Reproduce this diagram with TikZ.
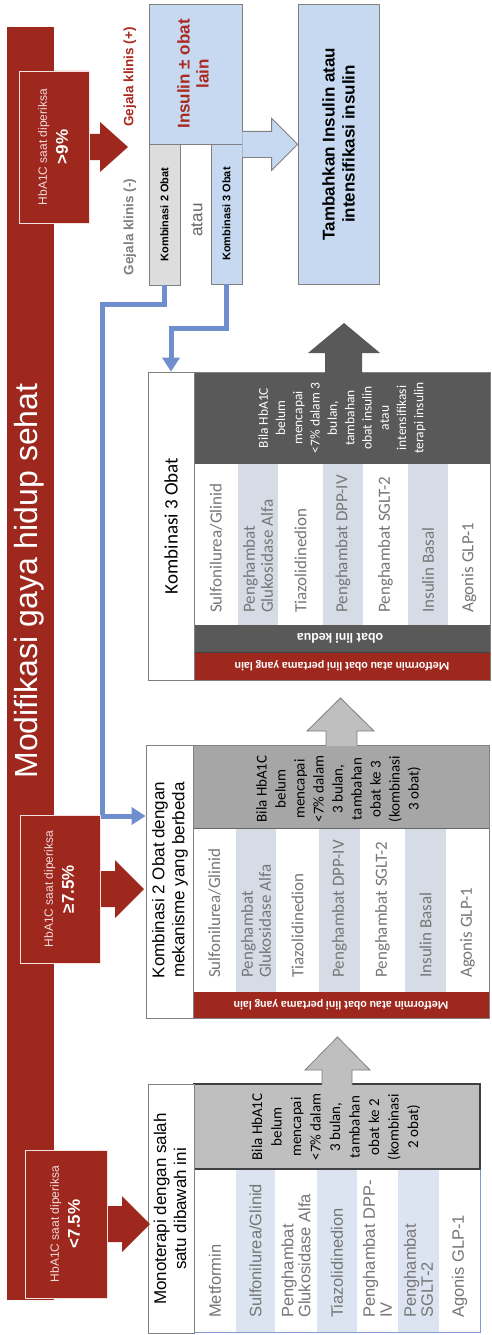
\documentclass[tikz,border=0pt]{standalone}
\usepackage{fontspec}
\setmainfont{Liberation Sans}
\newfontfamily\calfont{Carlito}
\usepackage{xcolor}
\usepackage{tikz}
\usetikzlibrary{arrows.meta,positioning,calc}

\definecolor{hbred}{RGB}{158,40,30}
\definecolor{redtext}{RGB}{170,42,32}
\definecolor{palepink}{RGB}{242,220,219}
\definecolor{paleblue}{RGB}{198,217,241}
\definecolor{linkblue}{RGB}{110,143,204}
\definecolor{stripe}{RGB}{214,220,229}
\definecolor{stripeb}{RGB}{220,228,242}
\definecolor{darkband}{RGB}{89,89,89}
\definecolor{midband}{RGB}{166,166,166}
\definecolor{lightband}{RGB}{191,191,191}
\definecolor{druggray}{RGB}{118,118,118}
\definecolor{edgegray}{RGB}{128,128,128}
\definecolor{tabblue}{RGB}{125,155,210}
\definecolor{kgray}{RGB}{221,221,221}

\begin{document}
\begin{tikzpicture}[x=1pt,y=-1pt,
  vtext/.style={rotate=90, inner sep=0pt, align=center},
  drug/.style={rotate=90, anchor=west, inner sep=0pt, align=left, text=druggray},
  upside/.style={rotate=180, inner sep=0pt, text=white, font=\calfont\bfseries\fontsize{12}{14}\selectfont},
  cell/.style={draw=edgegray, line width=0.8pt, inner sep=0pt},
  link/.style={draw=linkblue, line width=5pt, -{Triangle[length=14pt,width=17pt]}},
  uparrow/.style={draw=edgegray, line width=0.8pt}
]
\useasboundingbox (0,0) rectangle (491,1335);
\fill[white] (0,0) rectangle (491,1335);

\fill[hbred] (7,27) rectangle (54,1300);
\node[rotate=90, anchor=base, inner sep=0pt, text=white, font=\fontsize{32}{36}\selectfont] (title) at (37,581) {Modifikasi gaya hidup sehat};

\node[cell, fill=paleblue, minimum width=93pt, minimum height=140pt] (insbox) at (195.5,74) {};
\node[cell, fill=kgray, minimum width=31pt, minimum height=141pt] (k2box) at (164.5,214.5) {};
\node[cell, fill=paleblue, minimum width=31pt, minimum height=140pt] (k3box) at (226.5,214) {};
\node[cell, fill=paleblue, minimum width=81pt, minimum height=280pt] (addbox) at (338.5,144) {};
\node[vtext, text=redtext, font=\bfseries\fontsize{17}{19}\selectfont] (instxt) at (193,74) {Insulin ± obat\\lain};
\node[vtext, font=\bfseries\fontsize{11}{13}\selectfont] (k2txt) at (k2box) {Kombinasi 2 Obat};
\node[vtext, font=\bfseries\fontsize{11}{13}\selectfont] (k3txt) at (k3box) {Kombinasi 3 Obat};
\node[vtext, font=\bfseries\fontsize{17}{20}\selectfont] (addtxt) at (addbox) {Tambahkan Insulin atau\\intensifikasi insulin};
\node[vtext, text=black!60, font=\fontsize{17}{20}\selectfont] (atau) at (197,220) {atau};
\node[vtext, text=redtext, font=\bfseries\fontsize{13.5}{16}\selectfont] (gplus) at (130,77) {Gejala klinis (+)};
\node[vtext, text=edgegray, font=\bfseries\fontsize{13.5}{16}\selectfont] (gminus) at (130,227) {Gejala klinis (-)};
\coordinate (fa0) at (insbox.south east);
\coordinate (fa1) at (addbox.west |- insbox.south east);
\filldraw[fill=paleblue, draw=edgegray, line width=0.8pt] ($(fa0)+(0,-13)$) -- ($(fa1)+(-26,-13)$) -- ($(fa1)+(-26,-26)$) -- (fa1) -- ($(fa1)+(-26,26)$) -- ($(fa1)+(-26,13)$) -- ($(fa0)+(0,13)$);

\foreach \xa/\xb/\col/\lbl [count=\i] in {194/238/white/{Sulfonilurea/Glinid}, 238/278/stripe/{Penghambat\\Glukosidase Alfa}, 278/323/white/{Tiazolidinedion}, 323/363/stripe/{Penghambat DPP-IV}, 363/408/white/{Penghambat SGLT-2}, 408/448/stripe/{Insulin Basal}, 448/490/white/{Agonis GLP-1}}
{
  \fill[\col] (\xa,464) rectangle (\xb,625);
  \node[drug, font=\calfont\fontsize{17}{18}\selectfont] (one\i) at ({(\xa+\xb)/2},613) {\lbl};
}
\fill[darkband] (194,372) rectangle (490,464);
\fill[darkband] (194,625) rectangle (490,652);
\fill[hbred] (194,652) rectangle (490,680);
\draw[black!75, line width=1pt] (194,652) -- (490,652);
\node[cell, fill=white, minimum width=46pt, minimum height=308pt] (hdrone) at (171,526) {};
\node[vtext, font=\calfont\fontsize{19}{22}\selectfont] (hdronetxt) at (hdrone) {Kombinasi 3 Obat};
\draw[edgegray, line width=0.8pt] (148,372) rectangle (490,680);
\fill[darkband] (325,373) -- (325,353) -- (308,353) -- (344,323) -- (380,353) -- (362,353) -- (362,373) -- cycle;
\node[vtext, text=white, font=\calfont\fontsize{13.5}{17.3}\selectfont] (onenote) at (342,418) {Bila HbA1C\\belum\\mencapai\\<7\% dalam 3\\bulan,\\tambahan\\obat insulin\\atau\\intensifikasi\\terapi insulin};
\node[upside, font=\calfont\bfseries\fontsize{14}{16}\selectfont] (onekedua) at (340,638.5) {obat lini kedua};
\node[upside] (onemet) at (342,666) {Metformin atau obat lini pertama yang lain};

\foreach \xa/\xb/\col/\lbl [count=\i] in {193/236/white/{Sulfonilurea/Glinid}, 236/276/stripe/{Penghambat\\Glukosidase Alfa}, 276/319/white/{Tiazolidinedion}, 319/360/stripe/{Penghambat DPP-IV}, 360/405/white/{Penghambat SGLT-2}, 405/446/stripe/{Insulin Basal}, 446/489/white/{Agonis GLP-1}}
{
  \fill[\col] (\xa,828) rectangle (\xb,992);
  \node[drug, font=\calfont\fontsize{17}{18}\selectfont] (two\i) at ({(\xa+\xb)/2},978) {\lbl};
}
\filldraw[fill=midband, draw=black!60, line width=0.8pt] (193,745) rectangle (489,828);
\fill[hbred] (193,992) rectangle (489,1018);
\node[cell, fill=white, minimum width=47pt, minimum height=273pt] (hdrtwo) at (169.5,881.5) {};
\node[vtext, font=\fontsize{17}{20}\selectfont] (hdrtwotxt) at (170,880) {Kombinasi 2 Obat dengan\\mekanisme yang berbeda};
\draw[edgegray, line width=0.8pt] (146,745) rectangle (489,1018);
\fill[lightband] (326,746) -- (326,731) -- (307,731) -- (340.5,698) -- (374,731) -- (357,731) -- (357,746) -- cycle;
\draw[uparrow] (326,745.5) -- (326,731) -- (307,731) -- (340.5,698) -- (374,731) -- (357,731) -- (357,745.5);
\node[vtext, font=\calfont\fontsize{15}{19}\selectfont] (twonote) at (338.5,789) {Bila HbA1C\\belum\\mencapai\\<7\% dalam\\3 bulan,\\tambahan\\obat ke 3\\(kombinasi\\3 obat)};
\node[upside] (twomet) at (341,1005) {Metformin atau obat lini pertama yang lain};

\foreach \xa/\xb/\col/\lbl [count=\i] in {194/236/white/{Metformin}, 236/275/stripeb/{Sulfonilurea/Glinid}, 275/317/white/{Penghambat\\Glukosidase Alfa}, 317/357/stripeb/{Tiazolidinedion}, 357/398/white/{Penghambat DPP-\\IV}, 398/439/stripeb/{Penghambat\\SGLT-2}, 439/480/white/{Agonis GLP-1}}
{
  \fill[\col] (\xa,1169) rectangle (\xb,1332);
  \draw[tabblue, line width=0.8pt] (\xb,1169) -- (\xb,1332);
  \node[drug, font=\fontsize{16.5}{17}\selectfont] (three\i) at ({(\xa+\xb)/2},1318) {\lbl};
}
\draw[tabblue, line width=0.8pt] (194,1169) rectangle (480,1332);
\filldraw[fill=lightband, draw=black!75, line width=1.3pt] (194,1084) rectangle (480,1169);
\node[cell, fill=white, minimum width=46pt, minimum height=249pt] (hdrthree) at (171,1208.5) {};
\node[vtext, font=\fontsize{17}{20}\selectfont] (hdrthreetxt) at (170,1209) {Monoterapi dengan salah\\satu dibawah ini};
\fill[lightband] (322,1085) -- (322,1070) -- (305,1070) -- (337.5,1037) -- (370,1070) -- (352,1070) -- (352,1085) -- cycle;
\draw[uparrow] (322,1084) -- (322,1070) -- (305,1070) -- (337.5,1037) -- (370,1070) -- (352,1070) -- (352,1084);
\node[vtext, font=\calfont\fontsize{15}{19.5}\selectfont] (threenote) at (336,1127) {Bila HbA1C\\belum\\mencapai\\<7\% dalam\\3 bulan,\\tambahan\\obat ke 2\\(kombinasi\\2 obat)};

\draw[link] (k2box.south) -- ++(0,19) -| (102,816) -- (hdrtwo.west |- 0,816);
\draw[link] (k3box.south) -- ++(0,44) -| (hdrone.north);

\foreach \xa/\xb/\ya/\yb/\hb/\tp/\sh/\hh/\val [count=\i] in {19/89/71/223/100/128/13/25/{>9\%}, 20/100/815/963/115/144/18/29/{≥7.5\%}, 25/107/1150/1298/122/150/18/28/{<7.5\%}}
{
  \pgfmathsetmacro\cy{(\ya+\yb)/2}
  \fill[hbred] (\xa,\ya) -- (\xb,\ya) -- (\xb,\cy-\sh) -- (\hb,\cy-\sh) -- (\hb,\cy-\hh) -- (\tp,\cy) -- (\hb,\cy+\hh) -- (\hb,\cy+\sh) -- (\xb,\cy+\sh) -- (\xb,\yb) -- (\xa,\yb) -- cycle;
  \draw[palepink!85, line width=0.8pt] (\xa,\ya) rectangle (\xb,\yb);
  \node[vtext, text=white, font=\fontsize{12}{21}\selectfont] (hbtxt\i) at ({(\xa+\xb)/2-1},\cy) {\textcolor{palepink}{HbA1C saat diperiksa}\\{\bfseries\fontsize{17}{21}\selectfont \val}};
}
\end{tikzpicture}
\end{document}
